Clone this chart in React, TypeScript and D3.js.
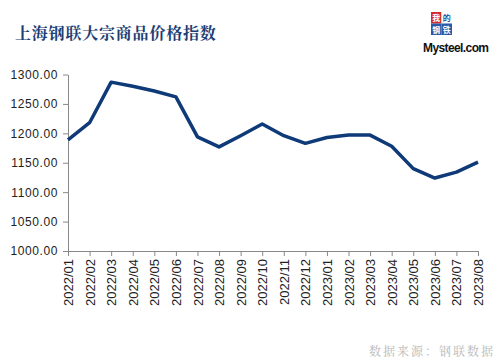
import { useRef, useEffect } from "react";
import * as d3 from "d3";

const months = [
  "2022/01", "2022/02", "2022/03", "2022/04", "2022/05", "2022/06", "2022/07",
  "2022/08", "2022/09", "2022/10", "2022/11", "2022/12", "2023/01", "2023/02",
  "2023/03", "2023/04", "2023/05", "2023/06", "2023/07", "2023/08"
];
const indexValues = [
  1189, 1218, 1287, 1280, 1272, 1262, 1194, 1177, 1196, 1216,
  1196, 1183, 1193, 1197, 1197, 1178, 1140, 1124, 1134, 1151
];
const yTicks = [1000, 1050, 1100, 1150, 1200, 1250, 1300];

export default function App() {
  const ref = useRef<SVGSVGElement>(null);

  useEffect(() => {
    const svg = d3.select(ref.current);
    svg.selectAll("*").remove();

    const width = 500;
    const height = 362;
    const margin = { top: 74.5, right: 22, bottom: 111, left: 68 };

    svg.attr("width", width).attr("height", height);

    svg.append("rect").attr("width", width).attr("height", height).attr("fill", "#fff");

    const x = d3.scalePoint<string>()
      .domain(months)
      .range([margin.left, width - margin.right]);

    const y = d3.scaleLinear()
      .domain([1000, 1300])
      .range([height - margin.bottom, margin.top]);

    // y axis
    const yAxis = svg.append("g")
      .attr("transform", `translate(${margin.left},0)`)
      .call(d3.axisLeft(y).tickValues(yTicks).tickSize(5).tickSizeOuter(0).tickFormat(d => d3.format(".2f")(+d)));
    yAxis.select(".domain").attr("stroke", "#888");
    yAxis.selectAll(".tick line").attr("stroke", "#888");
    yAxis.selectAll("text")
      .attr("x", -10)
      .attr("font-size", "12px")
      .attr("font-family", "Arial, 'Liberation Sans', sans-serif")
      .attr("fill", "#222")
      .attr("letter-spacing", "0.6px");

    // x axis
    const xAxis = svg.append("g")
      .attr("transform", `translate(0,${height - margin.bottom})`)
      .call(d3.axisBottom(x).tickSize(5).tickSizeOuter(0));
    xAxis.select(".domain").attr("stroke", "#888");
    xAxis.selectAll(".tick line").attr("stroke", "#888");
    xAxis.selectAll("text")
      .attr("transform", "rotate(-90)")
      .attr("text-anchor", "end")
      .attr("x", -8)
      .attr("y", 0)
      .attr("dy", "0.35em")
      .attr("font-size", "13px")
      .attr("font-family", "Arial, 'Liberation Sans', sans-serif")
      .attr("fill", "#222");

    // line
    const line = d3.line<number>()
      .x((_, i) => x(months[i]) as number)
      .y(d => y(d));

    svg.append("path")
      .datum(indexValues)
      .attr("fill", "none")
      .attr("stroke", "#0e3a78")
      .attr("stroke-width", 3.5)
      .attr("stroke-linejoin", "round")
      .attr("d", line);

    // title
    svg.append("text")
      .attr("x", 15)
      .attr("y", 39)
      .attr("font-size", "16px")
      .attr("font-weight", "bold")
      .attr("font-family", "'Noto Serif CJK SC', 'Noto Sans CJK SC', serif")
      .attr("fill", "#1d3d72")
      .attr("letter-spacing", "0.8px")
      .text("上海钢联大宗商品价格指数");

    // logo
    const logo = svg.append("g").attr("transform", "translate(431,12)");
    const cw = 10.5;
    const ch = 11.5;
    const cells = [
      { t: "我", col: 0, row: 0, bg: "#d42a2a", fg: "#fff" },
      { t: "的", col: 1, row: 0, bg: "#fff", fg: "#1c4f9c" },
      { t: "钢", col: 0, row: 1, bg: "#2a5aa8", fg: "#fff" },
      { t: "铁", col: 1, row: 1, bg: "#2a5aa8", fg: "#fff" }
    ];
    cells.forEach(c => {
      logo.append("rect")
        .attr("x", c.col * cw).attr("y", c.row * ch)
        .attr("width", cw).attr("height", ch)
        .attr("fill", c.bg);
      logo.append("text")
        .attr("x", c.col * cw + cw / 2).attr("y", c.row * ch + 9)
        .attr("text-anchor", "middle")
        .attr("font-size", "8px")
        .attr("font-weight", "bold")
        .attr("font-family", "'Noto Sans CJK SC', sans-serif")
        .attr("fill", c.fg)
        .text(c.t);
    });
    svg.append("text")
      .attr("x", 423)
      .attr("y", 52)
      .attr("font-size", "12px")
      .attr("font-weight", "bold")
      .attr("font-family", "Arial, 'Liberation Sans', sans-serif")
      .attr("fill", "#111")
      .attr("letter-spacing", "-0.6px")
      .text("Mysteel.com");

    // source
    svg.append("text")
      .attr("x", 495)
      .attr("y", 356)
      .attr("text-anchor", "end")
      .attr("font-size", "12px")
      .attr("font-family", "'Noto Serif CJK SC', 'Noto Sans CJK SC', serif")
      .attr("fill", "#b8b8b8")
      .attr("letter-spacing", "2px")
      .text("数据来源：钢联数据");
  }, []);

  return <svg ref={ref} style={{ position: "absolute", left: 0, top: 0 }}></svg>;
}
